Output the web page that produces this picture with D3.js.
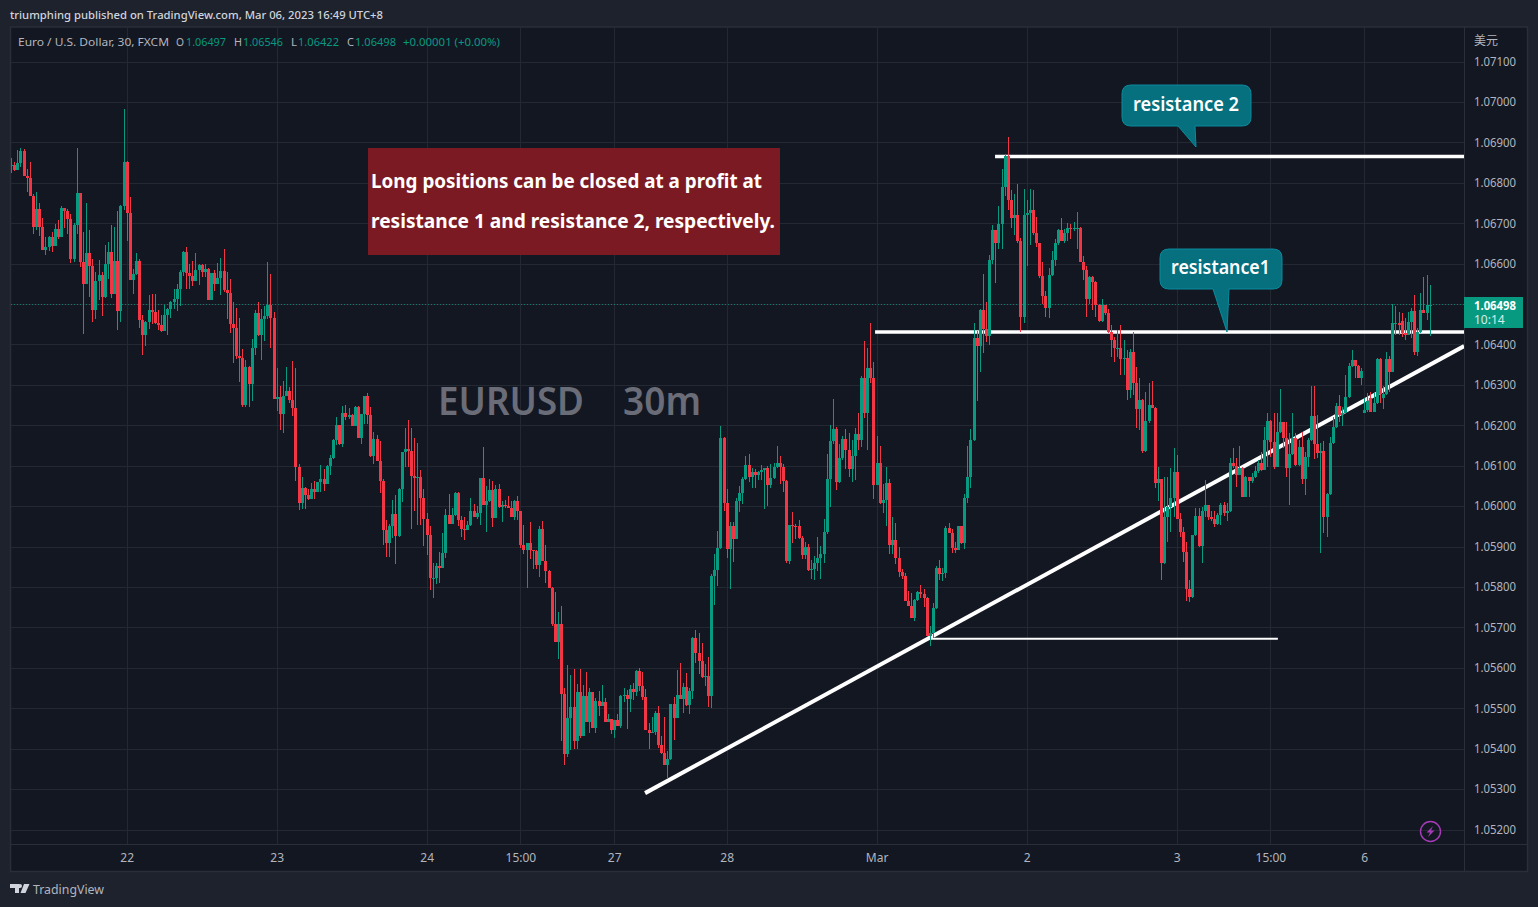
<!DOCTYPE html>
<html>
<head>
<meta charset="utf-8">
<script src="https://cdn.jsdelivr.net/npm/d3@7"></script>
<style>
html,body{margin:0;padding:0;background:#1e222d;overflow:hidden}
svg{display:block}
text{font-family:"Noto Sans",sans-serif}
</style>
</head>
<body>
<div id="chart"></div>
<script>
// EUR/USD candle values, in 1e-5 above 1.05000
const opens = [1843,1843,1832,1848,1879,1817,1812,1768,1691,1735,
1691,1634,1641,1666,1644,1685,1666,1738,1730,1710,
1611,1696,1775,1604,1550,1626,1594,1485,1557,1572,
1517,1599,1629,1525,1607,1483,1743,1852,1725,1560,
1574,1607,1461,1423,1456,1485,1480,1453,1448,1433,
1473,1488,1505,1513,1537,1579,1629,1577,1570,1557,
1584,1597,1579,1587,1510,1577,1550,1564,1582,1535,
1527,1451,1441,1371,1366,1250,1344,1302,1391,1478,
1424,1463,1471,1498,1466,1265,1270,1227,1273,1284,
1262,1242,1096,1007,1044,1027,1017,1042,1034,1059,
1067,1054,1099,1119,1163,1200,1153,1230,1220,1225,
1198,1246,1168,1227,1272,1225,1123,1166,1111,1062,
940,908,950,980,926,1042,1133,1141,1136,1074,
1069,1072,1020,968,928,822,823,851,846,884,
978,955,978,1032,965,943,940,953,987,973,
982,1069,1002,1012,1039,970,1042,997,1002,1001,
995,973,1012,987,903,891,908,891,890,854,
943,864,839,797,708,663,708,535,387,476,
503,419,540,431,530,466,540,451,518,505,
515,466,473,446,471,456,530,532,523,547,
540,592,555,528,446,439,440,488,409,389,
359,374,510,476,533,523,552,508,543,674,
636,617,577,579,530,827,842,896,1168,1008,
894,951,919,1013,1032,1067,1102,1072,1084,1077,
1085,1089,1094,1052,1070,1097,1107,1097,1062,864,
953,952,951,921,879,899,842,844,859,872,
881,936,1067,1160,1190,1060,1118,1165,1138,1092,
1123,1178,1163,1316,1230,1341,1318,1053,1106,1007,
1014,1057,904,916,871,837,827,766,754,724,
768,787,782,772,678,686,748,846,832,834,
946,934,896,891,950,908,1021,1071,1163,1417,
1395,1484,1437,1422,1610,1682,1650,1699,1790,1867,
1757,1714,1721,1657,1469,1721,1725,1732,1675,1650,
1570,1519,1491,1573,1610,1650,1682,1657,1676,1689,
1685,1687,1689,1604,1583,1513,1568,1555,1498,1457,
1498,1479,1431,1411,1390,1392,1364,1366,1287,1382,
1304,1240,1263,1136,1211,1250,1242,1056,1067,859,
974,997,1019,1085,969,937,887,795,774,928,
976,902,988,1003,974,968,957,978,1003,982,
989,1106,1099,1077,1094,1023,1073,1061,1071,1087,
1106,1089,1164,1211,1158,1096,1184,1207,1168,1094,
1128,1168,1102,1147,1067,1122,1164,1223,1153,1131,
1137,974,1030,1155,1197,1248,1225,1231,1269,1347,
1362,1347,1318,1230,1238,1267,1234,1254,1364,1267,
1277,1364,1333,1452,1454,1458,1428,1423,1455,1483,
1382,1432,1485,1479,1497];
const closes = [1843,1832,1848,1879,1817,1812,1768,1691,1735,1691,
1634,1641,1666,1644,1685,1666,1738,1730,1710,1611,
1696,1775,1604,1550,1626,1594,1485,1557,1572,1517,
1599,1629,1525,1607,1483,1743,1852,1725,1560,1574,
1607,1461,1423,1456,1485,1480,1453,1448,1433,1473,
1488,1505,1513,1537,1579,1629,1577,1570,1557,1584,
1597,1579,1587,1510,1577,1550,1564,1582,1535,1527,
1451,1441,1371,1366,1250,1344,1302,1391,1478,1424,
1463,1471,1498,1466,1265,1270,1227,1273,1284,1262,
1242,1096,1007,1044,1027,1017,1042,1034,1059,1067,
1054,1099,1119,1163,1200,1153,1230,1220,1225,1198,
1246,1168,1227,1272,1225,1123,1166,1111,1062,940,
908,950,980,926,1042,1133,1141,1136,1074,1069,
1072,1020,968,928,822,823,851,846,884,978,
955,978,1032,965,943,940,953,987,973,982,
1069,1002,1012,1039,970,1042,997,1002,1001,995,
973,1012,987,903,891,908,891,890,854,943,
864,839,797,708,663,708,535,387,476,503,
419,540,431,530,466,540,451,518,505,515,
466,473,446,471,456,530,532,523,547,540,
592,555,528,446,439,440,488,409,389,359,
374,510,476,533,523,552,508,543,674,636,
617,577,579,530,827,842,896,1168,1008,894,
951,919,1013,1032,1067,1102,1072,1084,1077,1085,
1089,1094,1052,1070,1097,1107,1097,1062,864,953,
952,951,921,879,899,842,844,859,872,881,
936,1067,1160,1190,1060,1118,1165,1138,1092,1123,
1178,1163,1316,1230,1341,1318,1053,1106,1007,1014,
1057,904,916,871,837,827,766,754,724,768,
787,782,772,678,686,748,846,832,834,946,
934,896,891,950,908,1021,1071,1163,1417,1395,
1484,1437,1422,1610,1682,1650,1699,1790,1867,1757,
1714,1721,1657,1469,1721,1725,1732,1675,1650,1570,
1519,1491,1573,1610,1650,1682,1657,1676,1689,1685,
1687,1689,1604,1583,1513,1568,1555,1498,1457,1498,
1479,1431,1411,1390,1392,1364,1366,1287,1382,1304,
1240,1263,1136,1211,1250,1242,1056,1067,859,974,
997,1019,1085,969,937,887,795,774,928,976,
902,988,1003,974,968,957,978,1003,982,989,
1106,1099,1077,1094,1023,1073,1061,1071,1087,1106,
1089,1164,1211,1158,1096,1184,1207,1168,1094,1128,
1168,1102,1147,1067,1122,1164,1223,1153,1131,1137,
974,1030,1155,1197,1248,1225,1231,1269,1347,1362,
1347,1318,1334,1238,1261,1234,1254,1364,1277,1277,
1364,1333,1452,1454,1448,1428,1423,1455,1483,1382,
1432,1485,1479,1498,1498];
const highs = [1861,1852,1880,1886,1883,1833,1852,1772,1778,1750,
1713,1666,1668,1678,1698,1708,1743,1738,1735,1723,
1701,1886,1775,1678,1750,1683,1611,1579,1609,1579,
1646,1654,1696,1691,1730,1745,1983,1854,1765,1587,
1626,1612,1473,1458,1522,1525,1525,1485,1473,1497,
1490,1507,1536,1550,1584,1630,1641,1599,1607,1626,
1599,1599,1599,1590,1577,1584,1602,1614,1636,1579,
1562,1505,1490,1465,1389,1362,1347,1414,1484,1505,
1488,1495,1604,1574,1480,1342,1297,1310,1344,1295,
1359,1342,1104,1072,1047,1042,1057,1062,1060,1101,
1091,1101,1126,1166,1220,1200,1247,1250,1242,1227,
1247,1247,1228,1273,1279,1245,1183,1175,1161,1067,
965,955,1015,1027,1044,1134,1193,1213,1193,1168,
1156,1089,1042,982,950,859,859,886,933,992,
1029,995,1034,1034,975,973,963,1020,1005,1000,
1070,1146,1049,1067,1062,1052,1054,1012,1015,1025,
1012,1015,1025,988,953,909,960,891,891,950,
962,903,841,800,787,737,753,549,607,582,
597,560,597,557,590,550,540,525,543,557,
525,486,473,472,486,533,550,545,557,562,
594,599,590,547,463,478,493,505,431,478,
394,511,528,594,612,562,587,550,676,693,
686,661,609,627,832,881,938,1198,1171,1042,
961,961,1020,1050,1072,1124,1129,1094,1092,1087,
1102,1095,1099,1104,1107,1149,1124,1104,1065,954,
985,956,966,926,911,906,867,877,924,901,
968,1129,1201,1265,1196,1153,1173,1190,1182,1163,
1194,1230,1321,1409,1392,1454,1356,1173,1150,1054,
1098,1068,972,958,898,845,835,790,785,770,
790,805,795,774,704,760,851,866,846,950,
958,943,911,952,952,1029,1148,1190,1452,1434,
1488,1575,1505,1622,1695,1682,1743,1835,1871,1913,
1782,1772,1797,1664,1785,1757,1785,1782,1716,1652,
1603,1532,1590,1630,1660,1685,1714,1685,1701,1699,
1704,1728,1691,1620,1595,1570,1569,1558,1500,1512,
1498,1487,1448,1419,1436,1448,1411,1386,1388,1432,
1345,1316,1265,1283,1304,1310,1246,1098,1067,1073,
1071,1094,1145,1127,982,949,912,817,929,995,
995,999,1065,1003,989,989,982,1007,1009,1007,
1118,1143,1118,1149,1098,1074,1073,1081,1099,1114,
1135,1197,1230,1213,1230,1230,1289,1209,1207,1180,
1231,1180,1164,1184,1135,1168,1296,1296,1226,1155,
1160,1032,1172,1221,1254,1275,1246,1324,1353,1386,
1362,1349,1341,1267,1279,1283,1279,1366,1366,1296,
1382,1372,1499,1494,1481,1477,1465,1481,1489,1522,
1440,1528,1568,1572,1546];
const lows = [1825,1830,1832,1840,1817,1776,1768,1673,1683,1668,
1634,1621,1631,1629,1644,1661,1666,1688,1673,1602,
1604,1673,1592,1426,1550,1517,1456,1463,1510,1470,
1515,1562,1515,1525,1436,1456,1733,1656,1560,1525,
1572,1441,1374,1396,1438,1451,1451,1436,1431,1433,
1423,1465,1488,1482,1495,1569,1537,1537,1545,1557,
1547,1567,1567,1510,1510,1533,1550,1522,1530,1463,
1429,1354,1364,1307,1245,1245,1245,1260,1374,1420,
1362,1409,1463,1391,1265,1235,1188,1180,1273,1256,
1223,1062,990,992,992,1015,1017,1017,1034,1034,
1037,1054,1077,1116,1151,1151,1146,1213,1215,1198,
1198,1168,1153,1203,1203,1121,1104,1111,1032,903,
874,874,921,856,923,1010,1096,1096,943,987,
953,953,901,879,792,772,807,809,846,871,
955,955,975,950,923,916,940,950,973,968,
953,1002,935,1010,948,970,995,960,995,995,
973,965,965,896,881,797,869,844,844,824,
864,809,797,703,663,621,419,359,379,397,
399,399,426,431,466,439,451,439,480,505,
466,466,436,426,456,451,515,448,491,520,
530,543,520,446,399,439,434,402,387,359,
326,372,421,476,523,488,505,486,523,612,
585,575,555,503,500,755,802,894,988,872,
795,862,919,985,1005,1065,1060,1045,1045,1065,
1065,993,1000,1045,1067,1094,1055,1035,859,857,
909,919,919,869,869,839,820,817,839,820,
859,931,998,1154,1039,1056,1115,1092,1071,1060,
1065,1138,1146,1217,1140,1305,1017,1052,1005,983,
952,882,882,857,825,820,766,754,724,716,
766,772,751,676,655,673,745,817,815,822,
933,885,885,891,906,893,1007,1044,1160,1259,
1333,1378,1407,1398,1600,1551,1635,1635,1768,1732,
1689,1670,1650,1432,1454,1593,1647,1670,1642,1564,
1499,1469,1465,1570,1595,1647,1655,1652,1657,1660,
1680,1637,1604,1560,1469,1501,1486,1467,1455,1455,
1473,1428,1370,1356,1370,1324,1324,1263,1267,1275,
1193,1188,1131,1135,1205,1242,1044,1013,817,857,
912,937,974,969,924,863,766,764,772,926,
900,860,974,966,964,948,953,953,976,964,
986,1094,1048,1077,1022,1022,1023,1056,1069,1081,
1088,1089,1098,1122,1092,1096,1182,1143,1073,1003,
1127,1100,1100,1055,1028,1098,1161,1117,1118,883,
933,924,1028,1154,1194,1209,1199,1228,1267,1345,
1316,1316,1300,1230,1234,1234,1232,1253,1254,1240,
1275,1283,1333,1423,1423,1419,1411,1423,1415,1374,
1372,1428,1477,1461,1422];

const priceTicks = [1.052,1.053,1.054,1.055,1.056,1.057,1.058,1.059,1.060,1.061,1.062,1.063,1.064,1.065,1.066,1.067,1.068,1.069,1.070,1.071];
const timeTickBars = [37,85,133,163,193,229,277,325,373,403,433];
const timeTickLabels = ["22","23","24","15:00","27","28","Mar","2","3","15:00","6"];
const lastPrice = 1.06498;

// drawings: [bar index, price] pairs
const trendLine = [[202.9,1.05290],[465,1.06396]];
const resistanceOne = [[276.5,1.06431],[465,1.06431]];
const resistanceTwo = [[314.9,1.06865],[465,1.06865]];
const supportLine = [[294,1.05672],[405.4,1.05672]];

const W = 1538, H = 907;
const pane = {l:11, r:1464, t:27, b:844};
const toPrice = p => 1.05 + p/1e5;
const x = d3.scaleLinear().domain([0,454]).range([11,1429.75]);
const y = d3.scaleLinear().domain([1.052,1.071]).range([829.5,61.5]);

const svg = d3.select("#chart").append("svg").attr("width",W).attr("height",H);
svg.append("rect").attr("width",W).attr("height",H).attr("fill","#1e222d");
// chart frame
svg.append("rect").attr("x",10.5).attr("y",27).attr("width",1517).attr("height",844.5)
  .attr("fill","#131722").attr("stroke","#2a2e39").attr("stroke-width",1.5);

svg.append("defs").append("clipPath").attr("id","paneClip").append("rect")
  .attr("x",pane.l).attr("y",pane.t).attr("width",pane.r-pane.l).attr("height",pane.b-pane.t);

// grid
const grid = svg.append("g").attr("shape-rendering","crispEdges");
grid.selectAll("line.h").data(priceTicks).join("line").attr("class","h")
  .attr("x1",pane.l).attr("x2",pane.r).attr("y1",d=>Math.round(y(d))+.5).attr("y2",d=>Math.round(y(d))+.5)
  .attr("stroke","#242832");
grid.selectAll("line.v").data(timeTickBars).join("line").attr("class","v")
  .attr("y1",pane.t).attr("y2",pane.b).attr("x1",d=>Math.round(x(d))+.5).attr("x2",d=>Math.round(x(d))+.5)
  .attr("stroke","#242832");
// axis separators
grid.append("line").attr("x1",pane.r+.5).attr("x2",pane.r+.5).attr("y1",pane.t).attr("y2",871).attr("stroke","#2a2e39");
grid.append("line").attr("x1",pane.l).attr("x2",1527).attr("y1",pane.b+.5).attr("y2",pane.b+.5).attr("stroke","#2a2e39");

const clipped = svg.append("g").attr("clip-path","url(#paneClip)");

// watermark
const wm = clipped.append("g").attr("fill","#6a6d78").attr("font-size",40).attr("font-weight",600);
wm.append("text").attr("x",438).attr("y",415).attr("textLength",146).attr("lengthAdjust","spacingAndGlyphs").text("EURUSD");
wm.append("text").attr("x",623).attr("y",415).attr("textLength",78).attr("lengthAdjust","spacingAndGlyphs").text("30m");

// last price dotted line
clipped.append("line").attr("x1",pane.l).attr("x2",pane.r)
  .attr("y1",Math.floor(y(lastPrice))+.5).attr("y2",Math.floor(y(lastPrice))+.5)
  .attr("stroke","#089981").attr("stroke-opacity",.75).attr("stroke-width",1).attr("stroke-dasharray","1 2")
  .attr("shape-rendering","crispEdges");

// drawn lines (beneath candles)
const lineGen = d3.line().x(d=>x(d[0])).y(d=>y(d[1]));
[[trendLine,4],[resistanceOne,3.5],[resistanceTwo,3.5],[supportLine,2]].forEach(([pts,w])=>{
  clipped.append("path").attr("d",lineGen(pts)).attr("fill","none").attr("stroke","#ffffff").attr("stroke-width",w);
});

// candles
const bars = d3.range(closes.length).map(i=>({
  i, o:toPrice(opens[i]), c:toPrice(closes[i]), h:toPrice(highs[i]), l:toPrice(lows[i])
}));
const col = d => d.c>=d.o ? "#089981" : "#f23645";
const candle = clipped.append("g").attr("shape-rendering","crispEdges");
candle.selectAll("rect.w").data(bars).join("rect").attr("class","w")
  .attr("x",d=>Math.round(x(d.i))).attr("width",1)
  .attr("y",d=>y(d.h)).attr("height",d=>Math.max(1,y(d.l)-y(d.h))).attr("fill",col);
candle.selectAll("rect.b").data(bars).join("rect").attr("class","b")
  .attr("x",d=>Math.round(x(d.i))-1).attr("width",3)
  .attr("y",d=>y(Math.max(d.o,d.c))).attr("height",d=>Math.max(1,Math.abs(y(d.o)-y(d.c)))).attr("fill",col);

// red note
svg.append("rect").attr("x",368).attr("y",148).attr("width",412).attr("height",107).attr("fill","#7b1a22");
const note = svg.append("g").attr("fill","#ffffff").attr("font-size",20).attr("font-weight",700);
note.append("text").attr("x",371).attr("y",188).attr("textLength",391).attr("lengthAdjust","spacingAndGlyphs").text("Long positions can be closed at a profit at");
note.append("text").attr("x",371).attr("y",228).attr("textLength",404).attr("lengthAdjust","spacingAndGlyphs").text("resistance 1 and resistance 2, respectively.");

// callouts
function callout(l,t,r,b,tb1,tb2,tipX,tipY,label,tx,tw,ty){
  const rad=9;
  const p = d3.path();
  p.moveTo(l+rad,t); p.lineTo(r-rad,t); p.quadraticCurveTo(r,t,r,t+rad);
  p.lineTo(r,b-rad); p.quadraticCurveTo(r,b,r-rad,b);
  p.lineTo(tb2,b); p.lineTo(tipX,tipY); p.lineTo(tb1,b);
  p.lineTo(l+rad,b); p.quadraticCurveTo(l,b,l,b-rad);
  p.lineTo(l,t+rad); p.quadraticCurveTo(l,t,l+rad,t); p.closePath();
  svg.append("path").attr("d",p.toString()).attr("fill","#06707f").attr("stroke","#0a8a9c").attr("stroke-width",1);
  svg.append("text").attr("x",tx).attr("y",ty).attr("fill","#ffffff").attr("font-size",19).attr("font-weight",600)
    .attr("textLength",tw).attr("lengthAdjust","spacingAndGlyphs").text(label);
}
callout(1122,85,1251,126,1178,1195,1196,147,"resistance 2",1133,106,111);
callout(1160,249,1282,289,1213,1229,1227,332,"resistance1",1171,99,274);

// axes
const yAxis = d3.axisRight(y).tickValues(priceTicks).tickFormat(d3.format(".5f")).tickSize(0).tickPadding(0);
const yg = svg.append("g").attr("transform","translate(1474,0)").call(yAxis);
yg.select(".domain").remove();
yg.selectAll("text").attr("fill","#b2b5be").attr("font-size",12).attr("font-family",'"Noto Sans",sans-serif')
  .attr("textLength",42).attr("lengthAdjust","spacingAndGlyphs");
const xAxis = d3.axisBottom(x).tickValues(timeTickBars).tickFormat((d,i)=>timeTickLabels[i]).tickSize(0).tickPadding(0);
const xg = svg.append("g").attr("transform","translate(0,853)").call(xAxis);
xg.select(".domain").remove();
xg.selectAll("text").attr("fill","#b2b5be").attr("font-size",12).attr("font-family",'"Noto Sans",sans-serif');

// currency label
svg.append("text").attr("x",1474).attr("y",45).attr("fill","#b2b5be").attr("font-size",12)
  .style("font-family",'"Noto Sans CJK SC",sans-serif').text("美元");

// last price tag
svg.append("rect").attr("x",1464).attr("y",297).attr("width",59).attr("height",31).attr("fill","#089981");
svg.append("text").attr("x",1474).attr("y",310).attr("fill","#ffffff").attr("font-size",12).attr("font-weight",700)
  .attr("textLength",42).attr("lengthAdjust","spacingAndGlyphs").text(d3.format(".5f")(lastPrice));
svg.append("text").attr("x",1474).attr("y",324).attr("fill","#d5efe9").attr("font-size",12).text("10:14");

// header
svg.append("text").attr("x",10).attr("y",19).attr("fill","#d1d4dc").attr("font-size",11.5).attr("font-weight",500)
  .attr("textLength",373).attr("lengthAdjust","spacingAndGlyphs")
  .text("triumphing published on TradingView.com, Mar 06, 2023 16:49 UTC+8");

// legend
const legendItems = [
  ["Euro / U.S. Dollar, 30, FXCM",18,151,"#b2b5be"],["O",176,8,"#b2b5be"],["1.06497",186,40,"#089981"],
  ["H",234,8,"#b2b5be"],["1.06546",243,40,"#089981"],["L",291,6,"#b2b5be"],["1.06422",298,41,"#089981"],
  ["C",347,7,"#b2b5be"],["1.06498",355,41,"#089981"],["+0.00001 (+0.00%)",403,97,"#089981"]];
svg.append("g").selectAll("text").data(legendItems).join("text")
  .attr("x",d=>d[1]).attr("y",46).attr("fill",d=>d[3]).attr("font-size",11.5)
  .attr("textLength",d=>d[2]).attr("lengthAdjust","spacingAndGlyphs").text(d=>d[0]);

// lightning badge
const badge = svg.append("g").attr("transform","translate(1430.5,831.5)");
badge.append("circle").attr("r",10).attr("fill","none").attr("stroke","#a63bb8").attr("stroke-width",1.4);
badge.append("path").attr("d","M2.5,-5.5 L-4,1 L-0.5,1 L-2.5,5.5 L4,-1 L0.5,-1 Z").attr("fill","#a63bb8");

// brand
svg.append("path").attr("fill","#d1d4dc").attr("d","M10,884 H19 V893 H15 V888 H10 Z M20,884 A2,2 0 1 1 20,888 A2,2 0 1 1 20,884 Z M24,884 H29.5 L25.5,893 H20.5 Z");
svg.append("text").attr("x",33).attr("y",894).attr("fill","#b2b5be").attr("font-size",13)
  .attr("textLength",71).attr("lengthAdjust","spacingAndGlyphs").text("TradingView");
</script>
</body>
</html>
